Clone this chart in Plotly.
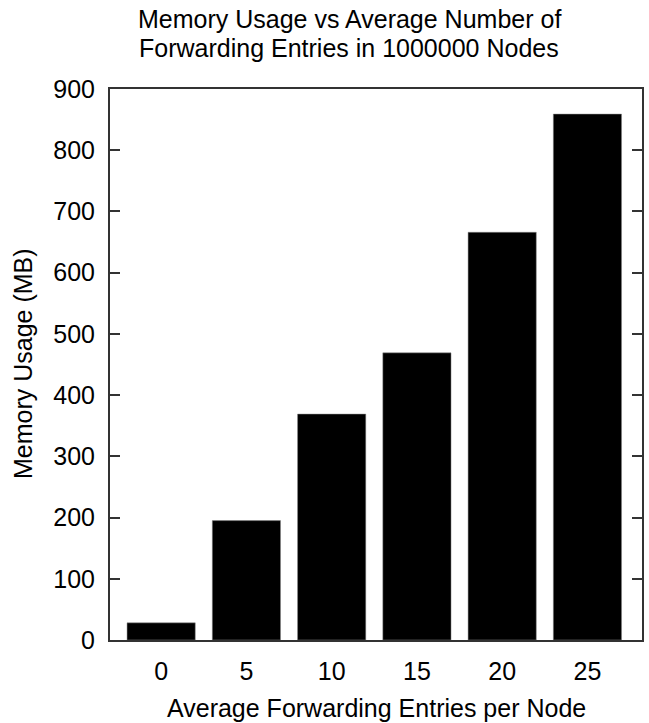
import plotly.graph_objects as go

entries = [0, 5, 10, 15, 20, 25]
memory_mb = [28, 195, 369, 469, 666, 859]
y_ticks = [0, 100, 200, 300, 400, 500, 600, 700, 800, 900]

title_lines = ["Memory Usage vs Average Number of", "Forwarding Entries in 1000000 Nodes"]
x_title = "Average Forwarding Entries per Node"
y_title = "Memory Usage (MB)"

font = "Liberation Sans, Arial, sans-serif"
FS = 25

L, R, T, B = 110, 7, 89, 83
W, H = 649, 723
pw, ph = W - L - R, H - T - B

fig = go.Figure(go.Bar(
    x=entries, y=memory_mb, width=4,
    marker=dict(color="black", line=dict(color="#888888", width=0.5)),
))

def px_x(xp):
    return (xp - L) / pw

def px_y(yp):
    return (H - B - yp) / ph

annotations = [
    dict(text=title_lines[0], x=px_x(349), y=px_y(19), xref="paper", yref="paper",
         xanchor="center", yanchor="middle", showarrow=False, font=dict(size=FS)),
    dict(text=title_lines[1], x=px_x(349), y=px_y(48), xref="paper", yref="paper",
         xanchor="center", yanchor="middle", showarrow=False, font=dict(size=FS)),
    dict(text=x_title, x=px_x(376), y=px_y(708), xref="paper", yref="paper",
         xanchor="center", yanchor="middle", showarrow=False, font=dict(size=FS)),
    dict(text=y_title, x=px_x(23), y=px_y(364), xref="paper", yref="paper",
         xanchor="center", yanchor="middle", showarrow=False, textangle=-90,
         font=dict(size=FS)),
]

fig.update_layout(
    width=W, height=H,
    margin=dict(l=L, r=R, t=T, b=B, autoexpand=False),
    plot_bgcolor="white", paper_bgcolor="white",
    showlegend=False,
    font=dict(family=font, size=FS, color="black"),
    annotations=annotations,
)
fig.update_xaxes(
    range=[-3, 28.2], tickvals=entries, ticktext=[str(v) for v in entries],
    ticks="", showgrid=False, zeroline=False, automargin=False,
    showline=True, linecolor="#333333", linewidth=2, mirror=True,
    ticklabelstandoff=8,
)
fig.update_yaxes(
    range=[0, 900], tickvals=y_ticks,
    ticks="inside", ticklen=10, tickwidth=2, tickcolor="#333333",
    showgrid=False, zeroline=False, automargin=False,
    showline=True, linecolor="#333333", linewidth=2, mirror="ticks",
    ticklabelstandoff=8,
)

fig.write_html("out.html", config={"displayModeBar": False},
               post_script="document.body.style.margin='0';")
